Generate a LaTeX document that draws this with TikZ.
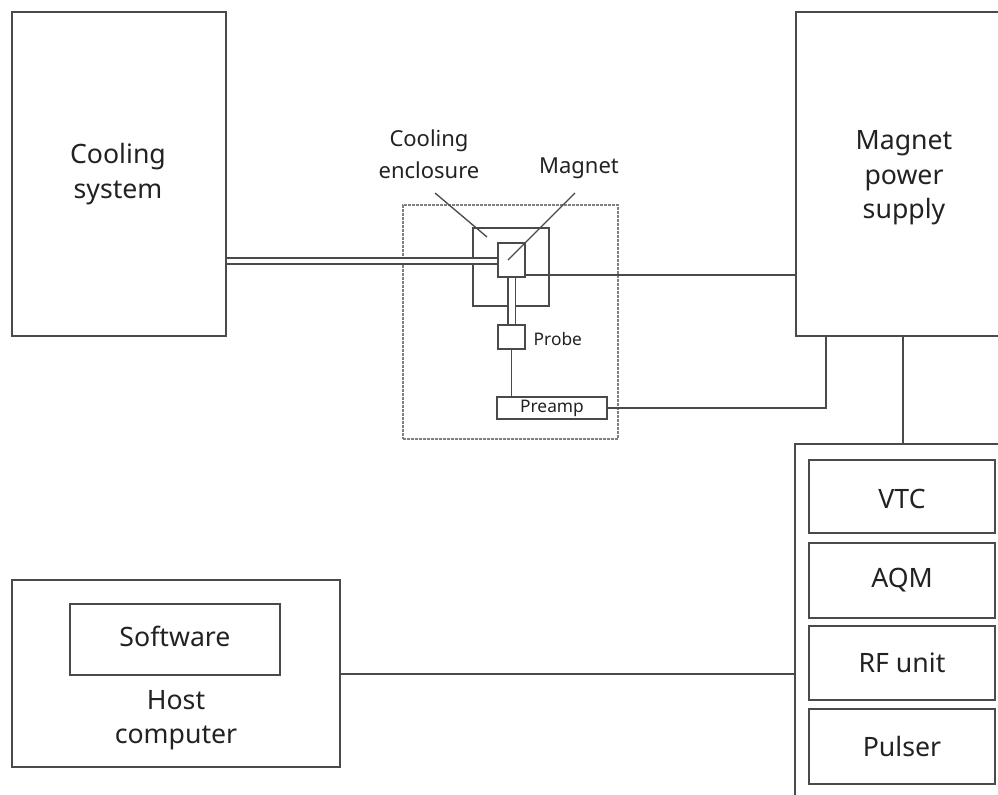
\documentclass[tikz,border=0pt]{standalone}
\usepackage{fontspec}
\setmainfont{Noto Sans}
\usetikzlibrary{fit}
\definecolor{lc}{HTML}{4A4A4A}
\definecolor{tc}{HTML}{222222}
\begin{document}
\begin{tikzpicture}[x=0.75pt,y=-0.75pt,
  box/.style={draw=lc, line width=1pt, inner sep=0pt},
  dashbox/.style={draw=lc!70, line width=0.8pt, dash pattern=on 2pt off 1pt, inner sep=0pt},
  wire/.style={draw=lc, line width=1pt},
  pipe/.style={draw=lc, line width=1pt, double=white},
  big/.style={align=center, text=tc, font=\fontsize{20}{26}\selectfont},
  mid/.style={align=center, text=tc, font=\fontsize{16.5}{24}\selectfont},
  small/.style={align=center, text=tc, font=\fontsize{13}{15}\selectfont}]
\useasboundingbox (0,0) rectangle (998,794);
\clip (0,0) rectangle (998,794);

% main units
\node[box, fit={(12,12)(226,336)}] (cool) {};
\node[big] at (118,174) {Cooling\\system};
\node[box, fit={(796,12)(1010,336)}] (mps) {};
\node[big] at (904,178) {Magnet\\power\\supply};

% magnet enclosure and its contents
\node[dashbox, fit={(403,205)(618,439)}] (encl) {};
\node[box, fit={(473,228)(549,306)}] (cenc) {};
\node[box, fit={(498,243)(525,277)}] (mag) {};
\node[box, fit={(498,325)(525,349)}] (probe) {};
\node[small, anchor=west] at (529,339) {Probe};
\node[box, fit={(497,397)(607,419)}] (preamp) {};
\node[small] at (preamp.center) {Preamp};

% callouts
\node[mid] (lblcenc) at (429,154) {Cooling\\enclosure};
\node[mid] (lblmag) at (579,168) {Magnet};
\draw[wire] (435,193) -- (487,237);
\draw[wire] (575,193) -- (508,260);

% console rack
\node[box, fit={(795,444)(1010,800)}] (console) {};
\node[box, fit={(809,460)(995,533)}] (vtc) {};
\node[box, fit={(809,543)(995,618)}] (aqm) {};
\node[box, fit={(809,626)(995,700)}] (rf) {};
\node[box, fit={(809,709)(995,784)}] (pulser) {};
\node[big] at ([yshift=-2pt]vtc.center) {VTC};
\node[big] at (aqm.center) {AQM};
\node[big] at (rf.center) {RF unit};
\node[big] at (pulser.center) {Pulser};

% host computer
\node[box, fit={(12,580)(340,767)}] (host) {};
\node[box, fit={(70,604)(280,675)}] (soft) {};
\node[big] at ([yshift=2pt]soft.center) {Software};
\node[big] at (176,720) {Host\\computer};

% connections
\coordinate (ycool) at (0,261);
\coordinate (ymag) at (0,275);
\coordinate (xpre) at (826,0);
\coordinate (xcon) at (903,0);
\coordinate (yhost) at (0,674);
\draw[pipe, double distance=3.6pt] (cool.east |- ycool) -- (mag.west |- ycool);
\draw[pipe, double distance=4.5pt] (mag.south) -- (probe.north);
\draw[wire] (mag.east |- ymag) -- (mps.west |- ymag);
\draw[wire] (probe.south) -- (probe.south |- preamp.north);
\draw[wire] (preamp.east) -| (xpre |- mps.south);
\draw[wire] (xcon |- mps.south) -- (xcon |- console.north);
\draw[wire] (host.east |- yhost) -- (console.west |- yhost);
\end{tikzpicture}
\end{document}
